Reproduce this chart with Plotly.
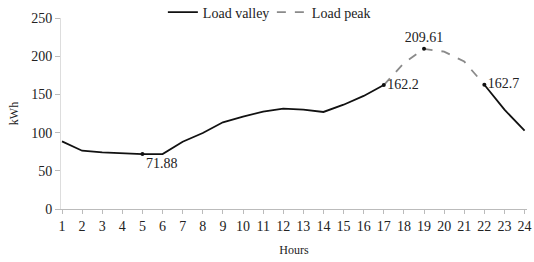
import plotly.graph_objects as go

hours = list(range(1, 25))
load = [88.5, 76.3, 74.0, 73.0, 71.88, 72.0, 88.0, 99.5, 113.5, 121.0, 127.5, 131.3,
        130.0, 127.0, 136.5, 148.0, 162.2, 191.0, 209.61, 206.0, 193.0, 162.7, 130.0, 102.5]
peak_hours = [17, 18, 19, 20, 21, 22]
label_hours = [5, 17, 19, 22]
label_text = ["71.88", "162.2", "209.61", "162.7"]
label_pos = ["bottom right", "middle right", "top center", "middle right"]
x_ticks = hours
y_ticks = [0, 50, 100, 150, 200, 250]

val = dict(zip(hours, load))
valley_y = [v if (h <= 17 or h >= 22) else None for h, v in zip(hours, load)]
peak_y = [val[h] for h in peak_hours]

serif = "Times New Roman, Liberation Serif, DejaVu Serif, serif"

fig = go.Figure()
fig.add_trace(go.Scatter(x=hours, y=valley_y, mode="lines", name="Load valley",
                         line=dict(color="#111111", width=1.8), connectgaps=False))
fig.add_trace(go.Scatter(x=peak_hours, y=peak_y, mode="lines", name="Load peak",
                         line=dict(color="#8a8a8a", width=1.8, dash="dash")))
fig.add_trace(go.Scatter(x=label_hours, y=[val[h] for h in label_hours], mode="markers+text",
                         text=label_text, textposition=label_pos, showlegend=False,
                         marker=dict(color="#111111", size=4),
                         textfont=dict(family=serif, size=14, color="#222222")))

fig.update_layout(
    width=534, height=262,
    margin=dict(l=61, r=7, t=18, b=53, autoexpand=False),
    paper_bgcolor="white", plot_bgcolor="white",
    font=dict(family=serif, size=14, color="#222222"),
    showlegend=True,
    legend=dict(orientation="h", xref="container", yref="container",
                x=0.305, y=0.952, xanchor="left", yanchor="middle",
                font=dict(family=serif, size=14, color="#222222"),
                itemwidth=30, bgcolor="rgba(0,0,0,0)", tracegroupgap=0,
                entrywidth=64),
)
fig.update_xaxes(range=[0.95, 24.12], tickmode="array", tickvals=x_ticks,
                 ticks="outside", ticklen=4, tickcolor="#bbbbbb",
                 ticklabeloverflow="allow",
                 showline=True, linecolor="#bbbbbb", linewidth=1,
                 showgrid=False, zeroline=False, automargin=False,
                 title=dict(text="Hours", font=dict(family=serif, size=12), standoff=12))
fig.update_yaxes(range=[0, 250], tickmode="array", tickvals=y_ticks,
                 ticks="outside", ticklen=5, tickcolor="#bbbbbb",
                 showline=True, linecolor="#dddddd", linewidth=1,
                 showgrid=False, zeroline=False, automargin=False,
                 title=dict(text="kWh", font=dict(family=serif, size=12), standoff=10))

fig.write_html("out.html", config={"displayModeBar": False},
               post_script="document.body.style.margin='0px';")
